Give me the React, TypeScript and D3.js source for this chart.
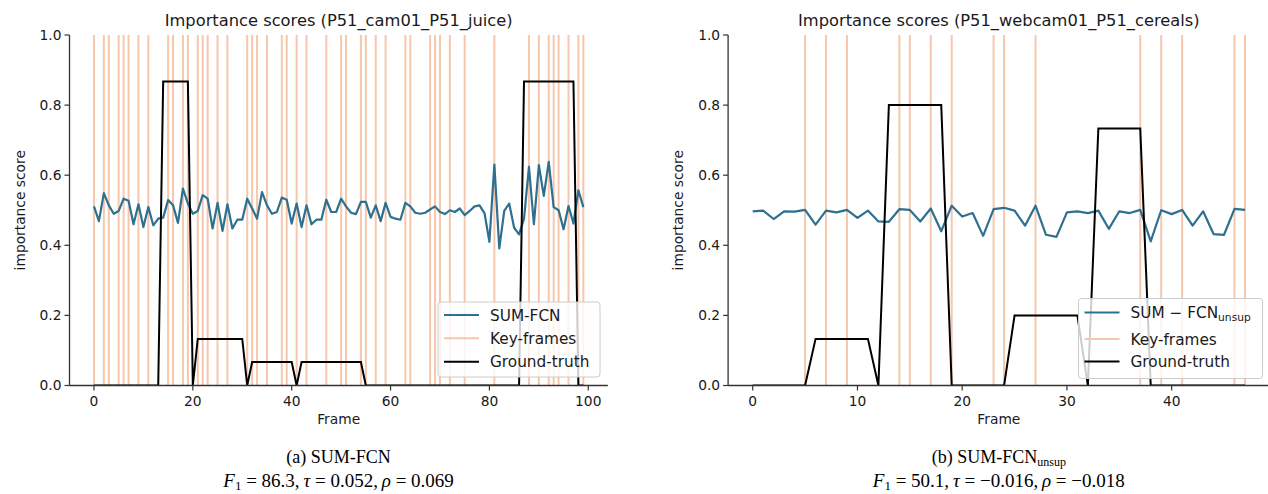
import React from 'react';
import * as d3 from 'd3';

// ---------- data ----------
const scoresA = [
  0.511, 0.469, 0.549, 0.514, 0.490, 0.498, 0.533, 0.527, 0.460, 0.517,
  0.452, 0.509, 0.457, 0.476, 0.479, 0.529, 0.514, 0.464, 0.562, 0.519,
  0.490, 0.498, 0.543, 0.533, 0.448, 0.521, 0.441, 0.517, 0.448, 0.473,
  0.473, 0.533, 0.505, 0.476, 0.552, 0.514, 0.490, 0.495, 0.536, 0.530,
  0.462, 0.519, 0.452, 0.514, 0.460, 0.473, 0.473, 0.530, 0.495, 0.495,
  0.533, 0.511, 0.493, 0.489, 0.524, 0.524, 0.479, 0.514, 0.469, 0.521,
  0.481, 0.476, 0.473, 0.521, 0.511, 0.493, 0.490, 0.493, 0.502, 0.511,
  0.495, 0.489, 0.500, 0.495, 0.505, 0.486, 0.498, 0.511, 0.514, 0.492,
  0.410, 0.630, 0.391, 0.498, 0.519, 0.450, 0.431, 0.476, 0.624, 0.460,
  0.629, 0.541, 0.638, 0.509, 0.500, 0.446, 0.512, 0.462, 0.557, 0.509,
];
const gtA = [
  0, 0, 0, 0, 0, 0, 0, 0, 0, 0,
  0, 0, 0, 0, 0.867, 0.867, 0.867, 0.867, 0.867, 0.867,
  0, 0.133, 0.133, 0.133, 0.133, 0.133, 0.133, 0.133, 0.133, 0.133,
  0.133, 0, 0.067, 0.067, 0.067, 0.067, 0.067, 0.067, 0.067, 0.067,
  0.067, 0, 0.067, 0.067, 0.067, 0.067, 0.067, 0.067, 0.067, 0.067,
  0.067, 0.067, 0.067, 0.067, 0.067, 0, 0, 0, 0, 0,
  0, 0, 0, 0, 0, 0, 0, 0, 0, 0,
  0, 0, 0, 0, 0, 0, 0, 0, 0, 0,
  0, 0, 0, 0, 0, 0, 0, 0.867, 0.867, 0.867,
  0.867, 0.867, 0.867, 0.867, 0.867, 0.867, 0.867, 0.867, 0, 0,
];
const keyFramesA = [
  0, 2, 3, 5, 6, 7, 9, 11, 15, 16, 18, 19, 21, 22, 23, 25, 27, 31, 32, 33,
  35, 38, 39, 41, 43, 47, 50, 51, 54, 55, 57, 59, 63, 64, 68, 69, 70, 72,
  75, 81, 88, 90, 92, 93, 94, 96, 98, 99,
];

const scoresB = [
  0.497, 0.499, 0.475, 0.497, 0.496, 0.501, 0.459, 0.499, 0.494, 0.501,
  0.478, 0.499, 0.468, 0.467, 0.503, 0.501, 0.468, 0.505, 0.440, 0.513,
  0.482, 0.492, 0.427, 0.503, 0.507, 0.499, 0.456, 0.513, 0.430, 0.424,
  0.494, 0.497, 0.492, 0.499, 0.447, 0.497, 0.492, 0.501, 0.411, 0.500,
  0.489, 0.501, 0.456, 0.497, 0.432, 0.430, 0.504, 0.501,
];
const gtB = [
  0, 0, 0, 0, 0, 0, 0.133, 0.133, 0.133, 0.133,
  0.133, 0.133, 0, 0.8, 0.8, 0.8, 0.8, 0.8, 0.8, 0,
  0, 0, 0, 0, 0, 0.2, 0.2, 0.2, 0.2, 0.2,
  0.2, 0.2, 0, 0.733, 0.733, 0.733, 0.733, 0.733, 0, 0,
  0, 0, 0, 0, 0, 0, 0, 0,
];
const keyFramesB = [5, 7, 9, 14, 15, 17, 19, 23, 24, 27, 37, 39, 41, 46, 47];

const xTicksA = [0, 20, 40, 60, 80, 100];
const xTicksB = [0, 10, 20, 30, 40];
const yTicks = [0, 0.2, 0.4, 0.6, 0.8, 1.0];

const titleA = 'Importance scores (P51_cam01_P51_juice)';
const titleB = 'Importance scores (P51_webcam01_P51_cereals)';

// ---------- styles ----------
const BLUE = '#2e7090';
const ORANGE = '#f6c7ad';
const SPINE = '#333333';
const TEXT = '#1a1a1a';
const SANS = '"DejaVu Sans", sans-serif';
const SERIF = '"Liberation Serif", "DejaVu Serif", serif';

type PanelProps = {
  scores: number[];
  gt: number[];
  keys: number[];
  xTicks: number[];
  xDomain: [number, number];
  xRange: [number, number];
  title: string;
  legendBox: { x: number; y: number; w: number; h: number };
  unsup: boolean;
};

const Y_TOP = 35;
const Y_BOT = 385.5;

function Panel(p: PanelProps) {
  const x = d3.scaleLinear().domain(p.xDomain).range(p.xRange);
  const y = d3.scaleLinear().domain([0, 1]).range([Y_BOT, Y_TOP]);
  const line = d3
    .line<number>()
    .x((_, i) => x(i))
    .y((d) => y(d));
  const [left, right] = p.xRange;
  const cx = (left + right) / 2;
  const lb = p.legendBox;
  const rows = p.unsup ? [lb.y + 14, lb.y + 40.5, lb.y + 63] : [lb.y + 13, lb.y + 36.3, lb.y + 59.7];
  const hx0 = lb.x + 6;
  const hx1 = lb.x + 41;
  const tx = lb.x + 52;
  return (
    <g>
      <defs>
        <clipPath id={'clip' + Math.round(left)}>
          <rect x={left} y={Y_TOP} width={right - left} height={Y_BOT - Y_TOP} />
        </clipPath>
      </defs>
      <g clipPath={`url(#clip${Math.round(left)})`}>
        {p.keys.map((k) => (
          <line key={k} x1={x(k)} x2={x(k)} y1={y(0)} y2={y(1)} stroke={ORANGE} strokeWidth={2} />
        ))}
        <path d={line(p.scores) || ''} fill="none" stroke={BLUE} strokeWidth={2.2} strokeLinejoin="round" />
        <path d={line(p.gt) || ''} fill="none" stroke="#000" strokeWidth={2} strokeLinejoin="miter" />
      </g>
      {/* spines */}
      <line x1={left} x2={left} y1={Y_TOP} y2={Y_BOT} stroke={SPINE} strokeWidth={1.3} />
      <line x1={left} x2={right} y1={Y_BOT} y2={Y_BOT} stroke={SPINE} strokeWidth={1.3} />
      {/* y ticks */}
      {yTicks.map((t) => (
        <g key={t}>
          <line x1={left - 5} x2={left} y1={y(t)} y2={y(t)} stroke={SPINE} strokeWidth={1.2} />
          <text x={left - 8} y={y(t)} dy="0.36em" textAnchor="end" fontFamily={SANS} fontSize={13.8} fill={TEXT}>
            {t.toFixed(1)}
          </text>
        </g>
      ))}
      {/* x ticks */}
      {p.xTicks.map((t) => (
        <g key={t}>
          <line x1={x(t)} x2={x(t)} y1={Y_BOT} y2={Y_BOT + 5} stroke={SPINE} strokeWidth={1.2} />
          <text x={x(t)} y={Y_BOT + 20} textAnchor="middle" fontFamily={SANS} fontSize={13.8} fill={TEXT}>
            {t}
          </text>
        </g>
      ))}
      <text x={cx} y={Y_BOT + 38} textAnchor="middle" fontFamily={SANS} fontSize={13.8} fill={TEXT}>
        Frame
      </text>
      <text
        transform={`translate(${left - 45},${(Y_TOP + Y_BOT) / 2}) rotate(-90)`}
        textAnchor="middle"
        fontFamily={SANS}
        fontSize={13.8}
        fill={TEXT}
      >
        importance score
      </text>
      <text x={cx} y={26} textAnchor="middle" fontFamily={SANS} fontSize={16.3} fill={TEXT}>
        {p.title}
      </text>
      {/* legend */}
      <rect
        x={lb.x}
        y={lb.y}
        width={lb.w}
        height={lb.h}
        rx={3}
        fill="#ffffff"
        fillOpacity={0.8}
        stroke="#cccccc"
        strokeWidth={1}
      />
      <line x1={hx0} x2={hx1} y1={rows[0]} y2={rows[0]} stroke={BLUE} strokeWidth={2.2} />
      <line x1={hx0} x2={hx1} y1={rows[1]} y2={rows[1]} stroke={ORANGE} strokeWidth={2} />
      <line x1={hx0} x2={hx1} y1={rows[2]} y2={rows[2]} stroke="#000" strokeWidth={2} />
      <text x={tx} y={rows[0]} dy="0.36em" fontFamily={SANS} fontSize={15.3} fill={TEXT}>
        {p.unsup ? (
          <>
            <tspan>SUM − FCN</tspan>
            <tspan fontSize={10.7} dy="3">unsup</tspan>
          </>
        ) : (
          'SUM-FCN'
        )}
      </text>
      <text x={tx} y={rows[1]} dy="0.36em" fontFamily={SANS} fontSize={15.3} fill={TEXT}>
        Key-frames
      </text>
      <text x={tx} y={rows[2]} dy="0.36em" fontFamily={SANS} fontSize={15.3} fill={TEXT}>
        Ground-truth
      </text>
    </g>
  );
}

function Caption({ cx, unsup, f1, tau, rho }: { cx: number; unsup: boolean; f1: string; tau: string; rho: string }) {
  const thin = '\u2009';
  return (
    <g fontFamily={SERIF} fill="#000">
      <text x={cx} y={463} textAnchor="middle" fontSize={18}>
        {unsup ? (
          <>
            <tspan>(b) SUM-FCN</tspan>
            <tspan fontSize={12} dy="3">unsup</tspan>
          </>
        ) : (
          '(a) SUM-FCN'
        )}
      </text>
      <text x={cx} y={487} textAnchor="middle" fontSize={19}>
        <tspan fontStyle="italic">F</tspan>
        <tspan fontSize={13} dy="3">1</tspan>
        <tspan dy="-3">{` = ${f1},${thin}`}</tspan>
        <tspan fontStyle="italic">τ</tspan>
        <tspan>{` = ${tau},${thin}`}</tspan>
        <tspan fontStyle="italic">ρ</tspan>
        <tspan>{` = ${rho}`}</tspan>
      </text>
    </g>
  );
}

export default function App() {
  return (
    <svg width={1268} height={494} style={{ position: 'absolute', left: 0, top: 0, background: '#fff' }}>
      <rect x={0} y={0} width={1268} height={494} fill="#fff" />
      <Panel
        scores={scoresA}
        gt={gtA}
        keys={keyFramesA}
        xTicks={xTicksA}
        xDomain={[-4.95, 103.95]}
        xRange={[69.5, 607.8]}
        title={titleA}
        legendBox={{ x: 438, y: 302, w: 162, h: 75 }}
        unsup={false}
      />
      <Panel
        scores={scoresB}
        gt={gtB}
        keys={keyFramesB}
        xTicks={xTicksB}
        xDomain={[-2.35, 49.35]}
        xRange={[728.1, 1269.6]}
        title={titleB}
        legendBox={{ x: 1078.5, y: 298.5, w: 184, h: 80 }}
        unsup
      />
      <Caption cx={338.6} unsup={false} f1="86.3" tau="0.052" rho="0.069" />
      <Caption cx={998.8} unsup f1="50.1" tau="−0.016" rho="−0.018" />
    </svg>
  );
}
